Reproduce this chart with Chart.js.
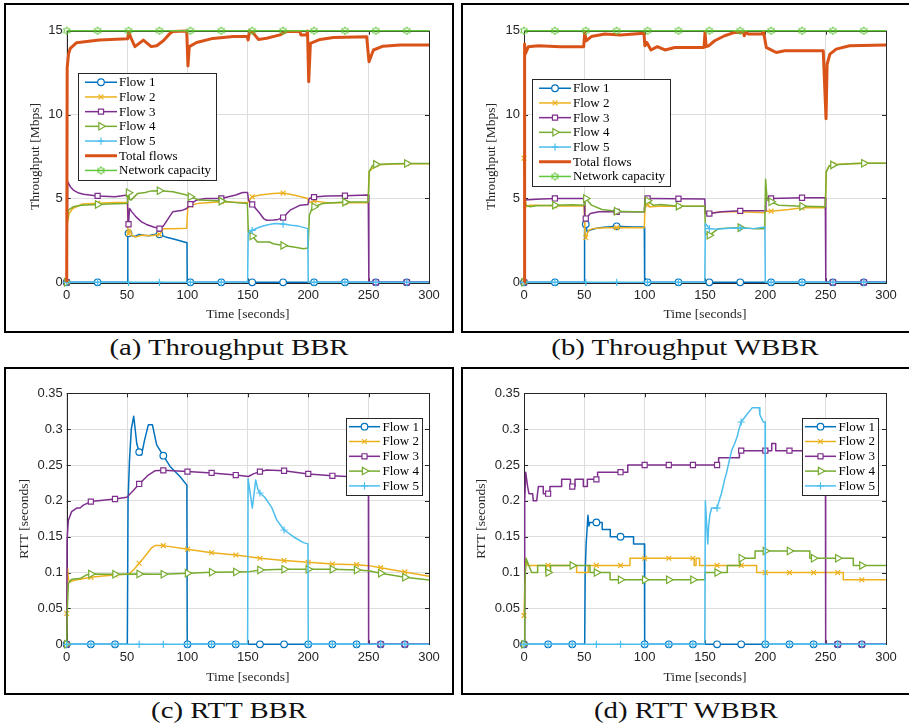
<!DOCTYPE html>
<html>
<head>
<meta charset="utf-8">
<script src="https://cdn.jsdelivr.net/npm/chart.js@4.4.1/dist/chart.umd.min.js"></script>
<style>
  body { margin: 0; background: #fff; width: 909px; height: 727px; overflow: hidden; position: relative; }
  .panel { position: absolute; border: 2px solid #000; box-sizing: border-box; pointer-events: none; }
  canvas { position: absolute; }
  .cap { position: absolute; font-family: "Liberation Serif", serif; font-size: 23px; line-height: 1; white-space: nowrap;
         transform: translateX(-50%) scaleX(1.25); color: #111; }
</style>
</head>
<body>
<canvas id="cA" width="450" height="330" style="left:4px;top:3px"></canvas>
<canvas id="cB" width="450" height="330" style="left:461px;top:3px"></canvas>
<canvas id="cC" width="450" height="328" style="left:4px;top:367px"></canvas>
<canvas id="cD" width="450" height="328" style="left:461px;top:367px"></canvas>
<div class="panel" style="left:4px;top:3px;width:450px;height:330px"></div>
<div class="panel" style="left:461px;top:3px;width:450px;height:330px"></div>
<div class="panel" style="left:4px;top:367px;width:450px;height:328px"></div>
<div class="panel" style="left:461px;top:367px;width:450px;height:328px"></div>
<div class="cap" style="left:229px;top:336px">(a) Throughput BBR</div>
<div class="cap" style="left:685px;top:336px">(b) Throughput WBBR</div>
<div class="cap" style="left:229px;top:699px">(c) RTT BBR</div>
<div class="cap" style="left:686px;top:699px">(d) RTT WBBR</div>
<script>
// ---- ticks ----
const timeTicks = [0, 50, 100, 150, 200, 250, 300];
const thrTicks = [0, 5, 10, 15];
const rttTicks = [0, 0.05, 0.1, 0.15, 0.2, 0.25, 0.3, 0.35];

// marker times (MATLAB MarkerIndices)
const thrMarks = [0, 25.6, 51.2, 76.8, 102.4, 128, 153.6, 179.2, 204.8, 230.4, 256, 281.6];
const rttMarks = [0, 20, 40, 60, 80, 100, 120, 140, 160, 180, 200, 220, 240, 260, 280];

const flowNames = ['Flow 1', 'Flow 2', 'Flow 3', 'Flow 4', 'Flow 5'];

// ---- (a) Throughput BBR [Mbps] ----
const aFlow1 = [[0,0],[25.6,0],[50.4,0],[50.6,2.95],[51.2,2.92],[53.5,2.8],[56,2.72],[60,2.85],[64,2.8],[68,2.78],[72,2.85],[76.8,2.86],[82.8,2.68],[90,2.55],[99.6,2.36],[99.8,0],[102.4,0],[128,0],[153.6,0],[179.2,0],[204.8,0],[230.4,0],[256,0],[281.6,0],[300,0]];
const aFlow2 = [[0,0],[0.5,3.5],[2,4.1],[5,4.4],[13,4.67],[25.6,4.72],[40,4.76],[50.3,4.76],[50.8,2.9],[51.2,2.9],[52.5,3.15],[54,2.8],[57,2.7],[62,2.8],[70,2.78],[76.8,2.86],[80,3.2],[88,3.2],[99.4,3.22],[100.2,4.4],[102.4,4.6],[110,4.72],[128,4.8],[149.6,4.75],[150.4,4.8],[153.6,5.1],[160,5.2],[171,5.3],[179.2,5.32],[188,5.2],[199.5,5.0],[200.5,4.75],[204.8,4.85],[215,4.75],[230.4,4.75],[249.6,4.75],[250.4,6.6],[256,7.0],[270,7.06],[281.6,7.07],[300,7.07]];
const aFlow3 = [[0,0],[0.8,6.0],[3,5.7],[5.5,5.5],[10,5.32],[14,5.25],[25.6,5.15],[40,5.1],[50.3,5.2],[50.8,3.4],[51.2,3.46],[52,4.4],[54,4.2],[57.4,3.9],[62,3.6],[66,3.45],[72,3.3],[76.8,3.2],[80,3.35],[82.3,3.6],[85,3.9],[87.8,4.2],[96,4.3],[99.3,4.4],[100.5,4.5],[102.4,4.66],[107.5,4.9],[115,5.0],[128,5.0],[140,5.2],[145.7,5.35],[149.8,5.35],[150.5,4.9],[153.6,4.64],[157,4.35],[160,4.1],[163,3.8],[165.6,3.7],[171,3.72],[175,3.75],[179.2,3.86],[185,4.3],[193.4,4.6],[199.8,4.64],[200.8,5.0],[204.8,5.08],[215,5.15],[230.4,5.16],[249.7,5.2],[250.2,0],[256,0],[281.6,0],[300,0]];
const aFlow4 = [[0,0],[0.5,3.6],[1.3,4.3],[5.4,4.5],[12,4.6],[25.6,4.64],[40,4.68],[49.6,4.7],[50.4,4.75],[50.8,5.4],[51.2,5.34],[52,4.95],[53.2,4.9],[58.8,5.3],[65,5.35],[70,5.45],[76.8,5.46],[88,5.4],[99.3,5.2],[102.4,5.1],[110,4.9],[128,4.84],[140,4.75],[149.6,4.7],[150.4,3.0],[153.6,2.76],[158,2.4],[168,2.4],[171,2.3],[179.2,2.2],[188,2.1],[196,2.0],[199.8,2.05],[201,4.0],[203,4.4],[204.8,4.5],[212,4.7],[230.4,4.78],[249.7,4.78],[250.5,6.6],[253,6.95],[256,7.03],[270,7.07],[281.6,7.08],[300,7.08]];
const aFlow5 = [[0,0],[25.6,0],[51.2,0],[76.8,0],[102.4,0],[128,0],[149.8,0],[150.3,2.9],[153.6,3.1],[160,3.3],[165,3.4],[172,3.5],[179.2,3.47],[186,3.4],[192,3.35],[199.6,3.2],[200,0],[204.8,0],[230.4,0],[256,0],[281.6,0],[300,0]];
const aTotal = [[0,0],[0.4,12.8],[1.5,13.6],[3,13.95],[8,14.28],[27,14.44],[50.5,14.52],[51.3,14.95],[53,14.6],[56.5,14.05],[63.5,14.44],[70,14.05],[74.5,14.1],[80,14.4],[85.6,14.84],[88,14.95],[99.4,14.98],[100.4,12.9],[101.5,14.05],[107.6,14.3],[121,14.54],[138,14.66],[149.5,14.66],[150.2,14.45],[151.5,15],[154,14.9],[158.7,14.48],[165.6,14.55],[176.6,14.75],[182,14.95],[193,14.95],[194,14.75],[198.7,14.75],[199.4,14.98],[200.4,11.96],[201.8,14.25],[209.8,14.48],[220.8,14.6],[248.4,14.64],[250.3,13.15],[254,13.85],[262,14.08],[276,14.15],[300,14.15]];
const capacity = [[0,15],[25.6,15],[51.2,15],[76.8,15],[102.4,15],[128,15],[153.6,15],[179.2,15],[204.8,15],[230.4,15],[256,15],[281.6,15],[300,15]];

// ---- (b) Throughput WBBR [Mbps] ----
const bFlow1 = [[0,0],[25.6,0],[49.8,0],[50.2,3.5],[51.2,3.46],[52.3,3.0],[55,3.12],[60,3.22],[66,3.28],[76.8,3.34],[90,3.3],[99.7,3.3],[100,0],[102.4,0],[128,0],[153.6,0],[179.2,0],[204.8,0],[230.4,0],[256,0],[281.6,0],[300,0]];
const bFlow2 = [[0,7.4],[0.8,5.0],[1.8,4.5],[5,4.6],[12,4.6],[25.6,4.55],[40,4.55],[49.8,4.55],[50.5,2.9],[51.2,2.66],[53.5,3.1],[57,3.2],[63,3.24],[76.8,3.26],[90,3.25],[99.7,3.25],[100.4,4.7],[102.4,4.6],[105,4.5],[115,4.55],[128,4.54],[149.8,4.54],[150.5,4.1],[153.6,4.12],[164,4.2],[179.2,4.2],[190,4.18],[199.6,4.15],[200.5,4.25],[204.8,4.24],[219.5,4.34],[230.4,4.44],[249.7,4.44],[250.5,6.6],[253,6.95],[256,7.02],[270,7.07],[281.6,7.1],[300,7.1]];
const bFlow3 = [[0,0],[0.8,4.9],[10,4.95],[25.6,5.0],[49.8,5.0],[50.4,3.8],[51.2,3.8],[55,4.1],[62,4.2],[76.8,4.2],[99.7,4.2],[100.3,5.0],[102.4,5.0],[128,4.98],[149.8,4.96],[150.4,4.1],[153.6,4.1],[164,4.2],[179.2,4.26],[199.8,4.26],[200.5,5.03],[204.8,5.0],[230.4,5.04],[249.7,5.04],[250.1,0],[256,0],[281.6,0],[300,0]];
const bFlow4 = [[0,0],[0.5,5.2],[1.5,4.6],[5,4.5],[10,4.56],[25.6,4.6],[40,4.62],[49.8,4.6],[50.4,5.0],[51.2,5.0],[56,4.6],[64.5,4.34],[76.8,4.24],[90,4.2],[99.7,4.2],[100.4,4.9],[102.4,4.86],[107,4.6],[113,4.64],[128,4.54],[149.8,4.54],[150.4,2.9],[153.6,2.8],[161,3.2],[179.2,3.26],[190,3.2],[199.5,3.2],[200.2,6.14],[201.5,4.9],[204.8,4.8],[211,4.6],[230.4,4.54],[249.7,4.5],[250.5,6.6],[253,6.95],[256,7.0],[270,7.07],[281.6,7.1],[300,7.1]];
const bFlow5 = [[0,0],[25.6,0],[51.2,0],[76.8,0],[102.4,0],[128,0],[149.8,0],[150.3,3.5],[151.5,3.4],[153.6,3.2],[160,3.16],[170,3.22],[179.2,3.24],[190,3.2],[199.6,3.3],[200,0],[204.8,0],[230.4,0],[256,0],[281.6,0],[300,0]];
const bTotal = [[0,0],[0.5,14.2],[1,13.6],[3.6,14.05],[12,14.1],[30,14.05],[49.5,14.05],[50.3,14.9],[51.5,14.4],[55.8,14.65],[67,14.8],[80,14.75],[99.4,14.85],[100.2,14.1],[101.8,14.3],[105.2,13.85],[110.5,14.05],[116.8,13.85],[125,14],[149.2,14],[150,14.9],[151,14.05],[153,14.1],[158,14.4],[166.3,14.7],[174.6,14.9],[182,14.9],[182.5,14.7],[184,14.9],[186,14.8],[197,14.8],[198.5,14.95],[200.8,14.0],[203.5,13.9],[209,13.7],[216,13.8],[248,13.8],[250.3,9.75],[251.2,13.0],[253.5,13.6],[258.7,13.9],[269.8,14.1],[300,14.15]];

// ---- (c) RTT BBR [s] ----
const cFlow1 = [[0,0],[20,0],[40,0],[50.2,0],[50.8,0.2],[52,0.257],[53.5,0.3],[55.5,0.318],[58,0.28],[60,0.268],[62,0.264],[64.5,0.285],[67.6,0.306],[71,0.306],[74.5,0.278],[80,0.263],[85.6,0.248],[93.8,0.234],[99.5,0.222],[99.8,0],[100,0],[120,0],[140,0],[160,0],[180,0],[200,0],[220,0],[240,0],[260,0],[280,0],[300,0]];
const cFlow2 = [[0,0.043],[0.8,0.106],[1.5,0.09],[2.8,0.087],[7,0.0897],[11,0.0906],[20,0.0934],[30,0.0953],[40,0.0967],[49.7,0.0976],[52.4,0.099],[56,0.105],[60,0.113],[63,0.119],[66.8,0.127],[70,0.134],[73.1,0.1376],[80,0.1376],[100,0.1325],[120,0.1278],[140,0.1245],[160,0.12],[180,0.1167],[200,0.1144],[220,0.112],[240,0.111],[250,0.1097],[260,0.1069],[280,0.1009],[300,0.0948]];
const cFlow3 = [[0,0],[0.3,0.145],[1.4,0.173],[4.1,0.185],[8.3,0.19],[11,0.19],[13.8,0.194],[20,0.199],[30,0.201],[40,0.2026],[49.7,0.205],[51,0.207],[55,0.214],[60,0.2236],[67.6,0.236],[73,0.242],[80,0.2426],[100,0.2408],[120,0.239],[140,0.236],[150.4,0.234],[155,0.238],[160,0.2408],[165.6,0.243],[180,0.242],[200,0.2376],[220,0.235],[231.8,0.234],[240,0.2335],[249.8,0.233],[250,0],[260,0],[280,0],[300,0]];
const cFlow4 = [[0,0],[0.5,0.048],[1.4,0.085],[4.1,0.0906],[11,0.0916],[16,0.0965],[20,0.098],[40,0.0976],[60,0.098],[80,0.0976],[100,0.099],[120,0.1004],[140,0.1009],[150,0.101],[160,0.1036],[180,0.1046],[200,0.1046],[220,0.1046],[240,0.1036],[250,0.1027],[260,0.099],[280,0.0934],[300,0.0897]];
const cFlow5 = [[0,0],[20,0],[40,0],[60,0],[80,0],[100,0],[120,0],[140,0],[149.8,0],[150.2,0.231],[152,0.21],[153.7,0.19],[156.5,0.229],[158.5,0.215],[160,0.211],[164,0.205],[169.7,0.191],[173.9,0.1735],[180,0.1594],[187.7,0.15],[196,0.1418],[199.8,0.14],[200,0],[220,0],[240,0],[260,0],[280,0],[300,0]];

// ---- (d) RTT WBBR [s] ----
const dFlow1 = [[0,0],[20,0],[40,0],[50.3,0],[50.7,0.1],[51.5,0.14],[53,0.18],[53.8,0.165],[54.6,0.17],[60,0.17],[64.8,0.17],[64.8,0.16],[71.5,0.16],[71.5,0.15],[80,0.15],[90.8,0.15],[90.8,0.14],[99.8,0.14],[100,0],[120,0],[140,0],[160,0],[180,0],[200,0],[220,0],[240,0],[260,0],[280,0],[300,0]];
const dFlow2 = [[0,0.04],[1.4,0.12],[3,0.11],[20,0.11],[43.6,0.11],[43.6,0.1],[53.3,0.1],[53.3,0.11],[60,0.11],[80,0.11],[87.8,0.11],[87.8,0.12],[100,0.12],[120,0.12],[140,0.12],[141,0.12],[141,0.11],[142.6,0.11],[142.6,0.12],[145.5,0.12],[145.5,0.11],[160,0.11],[180,0.11],[192.8,0.11],[192.8,0.1],[200,0.1],[220,0.1],[240,0.1],[260,0.1],[264.6,0.1],[264.6,0.09],[280,0.09],[300,0.09]];
const dFlow3 = [[0,0],[0.6,0.2],[1.4,0.24],[3,0.22],[4.1,0.21],[7.2,0.21],[7.7,0.2],[10.5,0.2],[11.9,0.22],[16,0.22],[16,0.21],[20,0.21],[21.5,0.21],[21.5,0.22],[31.2,0.22],[31.2,0.23],[38.5,0.23],[38.5,0.22],[40,0.22],[42.3,0.22],[42.3,0.23],[49.2,0.23],[49.2,0.22],[52.5,0.22],[52.5,0.23],[60,0.23],[61,0.23],[61,0.24],[80,0.24],[86,0.24],[86,0.25],[100,0.25],[120,0.25],[140,0.25],[160,0.25],[161.3,0.25],[161.3,0.26],[178.5,0.26],[178.5,0.27],[180,0.27],[200,0.27],[205.3,0.27],[205.3,0.28],[208.6,0.28],[208.6,0.27],[220,0.27],[240,0.27],[249.8,0.27],[250,0],[260,0],[280,0],[300,0]];
const dFlow4 = [[0,0],[0.6,0.08],[1.7,0.12],[4,0.11],[6.4,0.1],[11.3,0.1],[11.3,0.11],[18,0.11],[18,0.1],[20,0.1],[22,0.1],[22,0.11],[40,0.11],[54.7,0.11],[54.7,0.1],[60,0.1],[71.3,0.1],[71.3,0.09],[80,0.09],[100,0.09],[120,0.09],[140,0.09],[150,0.09],[150,0.1],[160,0.1],[168.5,0.1],[168.5,0.11],[179,0.11],[179,0.12],[180,0.12],[191.5,0.12],[191.5,0.13],[200,0.13],[220,0.13],[236.9,0.13],[236.9,0.12],[240,0.12],[260,0.12],[272.9,0.12],[272.9,0.11],[280,0.11],[300,0.11]];
const dFlow5 = [[0,0],[20,0],[40,0],[60,0],[80,0],[100,0],[120,0],[140,0],[149.8,0],[150.3,0.2],[152.3,0.14],[153,0.164],[154,0.18],[155.4,0.19],[160,0.19],[161.7,0.2],[163.5,0.21],[165,0.22],[166.3,0.23],[168,0.24],[169.3,0.25],[170.7,0.26],[172,0.27],[174.6,0.28],[176.8,0.29],[178.2,0.3],[180,0.31],[184.5,0.32],[189.2,0.33],[195,0.33],[195.5,0.32],[198.3,0.31],[199.8,0.31],[200,0],[220,0],[240,0],[260,0],[280,0],[300,0]];

// ---- styling ----
const ink = '#262626';
const colors = ['#0072BD', '#EDB120', '#7E2F8E', '#77AC30', '#4DBEEE'];
const totalColor = '#D95319';
const capColor = '#62C63A';

function hexagram(color) {
  const c = document.createElement('canvas');
  c.width = 10; c.height = 10;
  const g = c.getContext('2d');
  g.strokeStyle = color; g.lineWidth = 1;
  g.beginPath();
  for (let i = 0; i < 12; i++) {
    const a = -Math.PI / 2 + i * Math.PI / 6;
    const rr = i % 2 ? 2.2 : 4;
    const px = 5 + rr * Math.cos(a), py = 5 + rr * Math.sin(a);
    if (i) g.lineTo(px, py); else g.moveTo(px, py);
  }
  g.closePath(); g.stroke();
  return c;
}
const star = hexagram(capColor);

const markers = [
  { style: 'circle', r: 3.3, rot: 0 },
  { style: 'crossRot', r: 3.4, rot: 0 },
  { style: 'rect', r: 3.6, rot: 0 },
  { style: 'triangle', r: 4.3, rot: 90 },
  { style: 'cross', r: 3.6, rot: 0 }
];

function isMark(x, marks) {
  return marks.some(m => Math.abs(m - x) < 1e-6);
}

function series(label, pts, color, width, mk, marks, order) {
  return {
    label,
    data: pts.map(p => ({ x: p[0], y: p[1] })),
    borderColor: color,
    backgroundColor: color,
    borderWidth: width,
    borderJoinStyle: 'round',
    pointStyle: mk ? mk.style : false,
    pointRotation: mk ? mk.rot : 0,
    pointBorderColor: color,
    pointBackgroundColor: '#fff',
    pointBorderWidth: 1.2,
    pointRadius: ctx => (mk && ctx.raw && isMark(ctx.raw.x, marks)) ? mk.r : 0,
    markR: mk ? mk.r : 0,
    tension: 0,
    clip: false,
    order
  };
}

function flowSets(flows, marks) {
  // later series drawn on top, like MATLAB
  return flows.map((f, i) => series(flowNames[i], f, colors[i], 1.5, markers[i], marks, 10 - i));
}

// box + inward ticks, under the data
const axesBox = {
  id: 'axesBox',
  beforeDatasetsDraw(chart) {
    const { ctx, chartArea: a, scales } = chart;
    ctx.save();
    ctx.strokeStyle = ink; ctx.lineWidth = 1;
    ctx.strokeRect(Math.round(a.left) + 0.5, Math.round(a.top) + 0.5, Math.round(a.right - a.left), Math.round(a.bottom - a.top));
    ctx.beginPath();
    scales.x.ticks.forEach(t => {
      const px = Math.round(scales.x.getPixelForValue(t.value)) + 0.5;
      ctx.moveTo(px, a.bottom); ctx.lineTo(px, a.bottom - 4);
      ctx.moveTo(px, a.top); ctx.lineTo(px, a.top + 4);
    });
    scales.y.ticks.forEach(t => {
      const py = Math.round(scales.y.getPixelForValue(t.value)) + 0.5;
      ctx.moveTo(a.left, py); ctx.lineTo(a.left + 4, py);
      ctx.moveTo(a.right, py); ctx.lineTo(a.right - 4, py);
    });
    ctx.stroke();
    ctx.restore();
  }
};

// MATLAB-style boxed legend inside the axes
const boxLegend = {
  id: 'boxLegend',
  afterDraw(chart, args, o) {
    const { ctx, chartArea: a } = chart;
    const sets = chart.data.datasets;
    const x = Math.round(o.right != null ? a.right - o.right - o.w : a.left + o.left);
    const y = Math.round(a.top + o.top);
    const h = Math.round(sets.length * o.rowH + o.pad * 2);
    ctx.save();
    ctx.fillStyle = '#fff';
    ctx.fillRect(x, y, o.w, h);
    ctx.strokeStyle = ink; ctx.lineWidth = 1;
    ctx.strokeRect(x + 0.5, y + 0.5, o.w, h);
    ctx.font = '13px "Liberation Serif", serif';
    ctx.textBaseline = 'middle';
    sets.forEach((d, i) => {
      const cy = y + o.pad + o.rowH * (i + 0.5);
      ctx.strokeStyle = d.borderColor; ctx.lineWidth = d.borderWidth;
      ctx.beginPath(); ctx.moveTo(x + o.l0, cy); ctx.lineTo(x + o.l1, cy); ctx.stroke();
      if (d.markR && Chart.helpers && Chart.helpers.drawPoint) {
        ctx.fillStyle = '#fff'; ctx.lineWidth = 1.2; ctx.strokeStyle = d.borderColor;
        Chart.helpers.drawPoint(ctx, { pointStyle: d.pointStyle, rotation: d.pointRotation, radius: d.markR, borderWidth: 1.2 }, (x + o.l0 + x + o.l1) / 2, cy);
      }
      ctx.fillStyle = '#000';
      ctx.fillText(d.label, x + o.tx, cy + 0.5);
    });
    ctx.restore();
  }
};

function makePanel(id, p) {
  const tickFont = { family: '"Liberation Sans", Arial, sans-serif', size: 13 };
  const titleFont = { family: '"Liberation Serif", serif', size: 13.5, lineHeight: 1.2 };
  new Chart(document.getElementById(id), {
    type: 'line',
    data: { datasets: p.sets },
    options: {
      responsive: false,
      animation: false,
      devicePixelRatio: 1,
      events: [],
      layout: { padding: { left: 0, right: p.padR, top: p.padT, bottom: 0 } },
      plugins: { legend: { display: false }, tooltip: { enabled: false }, boxLegend: p.legend },
      scales: {
        x: {
          type: 'linear', min: 0, max: 300,
          afterBuildTicks: s => { s.ticks = timeTicks.map(v => ({ value: v })); },
          afterFit: s => { s.height = p.xH; },
          grid: { color: '#dedede', lineWidth: 1, drawTicks: false },
          border: { display: false },
          ticks: { font: tickFont, color: ink, padding: 5, maxRotation: 0, autoSkip: false },
          title: { display: true, text: 'Time [seconds]', font: titleFont, color: ink, padding: { top: 0, bottom: p.xTitle } }
        },
        y: {
          type: 'linear', min: 0, max: p.yMax,
          afterBuildTicks: s => { s.ticks = p.yTicks.map(v => ({ value: v })); },
          afterFit: s => { s.width = p.yW; },
          grid: { color: '#dedede', lineWidth: 1, drawTicks: false },
          border: { display: false },
          ticks: { font: tickFont, color: ink, padding: 4, callback: v => String(Math.round(v * 100) / 100) },
          title: { display: true, text: p.yTitle, font: titleFont, color: ink, padding: { top: p.yTitlePad, bottom: 0 } }
        }
      }
    },
    plugins: [axesBox, boxLegend]
  });
}

const legendThr = { l0: 7, l1: 39, tx: 41, rowH: 14.7, pad: 1.9, w: 138 };
const legendRtt = { l0: 3, l1: 34, tx: 36.5, rowH: 14.8, pad: 1.3, w: 76 };

makePanel('cA', {
  sets: flowSets([aFlow1, aFlow2, aFlow3, aFlow4, aFlow5], thrMarks).concat([
    series('Total flows', aTotal, totalColor, 3, null, thrMarks, 3),
    series('Network capacity', capacity, capColor, 1.5, { style: star, r: 4, rot: 0 }, thrMarks, 2)
  ]),
  padR: 25, padT: 27.7, xH: 50.7, yW: 62.7, xTitle: 10, yTitlePad: 23,
  yMax: 15, yTicks: thrTicks, yTitle: 'Throughput [Mbps]',
  legend: Object.assign({ left: 11.3, top: 42.6 }, legendThr)
});

makePanel('cB', {
  sets: flowSets([bFlow1, bFlow2, bFlow3, bFlow4, bFlow5], thrMarks).concat([
    series('Total flows', bTotal, totalColor, 3, null, thrMarks, 3),
    series('Network capacity', capacity, capColor, 1.5, { style: star, r: 4, rot: 0 }, thrMarks, 2)
  ]),
  padR: 25, padT: 27.7, xH: 50.7, yW: 63, xTitle: 10, yTitlePad: 22.7,
  yMax: 15, yTicks: thrTicks, yTitle: 'Throughput [Mbps]',
  legend: Object.assign({ left: 8.3, top: 48.6 }, legendThr)
});

makePanel('cC', {
  sets: flowSets([cFlow1, cFlow2, cFlow3, cFlow4, cFlow5], rttMarks),
  padR: 25, padT: 26.3, xH: 50.7, yW: 62.7, xTitle: 9.7, yTitlePad: 12,
  yMax: 0.35, yTicks: rttTicks, yTitle: 'RTT [seconds]',
  legend: Object.assign({ right: 7, top: 24.4 }, legendRtt)
});

makePanel('cD', {
  sets: flowSets([dFlow1, dFlow2, dFlow3, dFlow4, dFlow5], rttMarks),
  padR: 25, padT: 26.3, xH: 50.7, yW: 63, xTitle: 9.7, yTitlePad: 12.7,
  yMax: 0.35, yTicks: rttTicks, yTitle: 'RTT [seconds]',
  legend: Object.assign({ right: 7.7, top: 24.4 }, legendRtt)
});
</script>
</body>
</html>
